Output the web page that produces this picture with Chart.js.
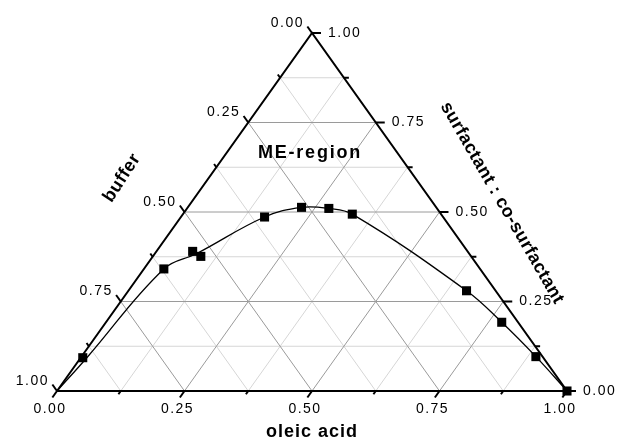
<!DOCTYPE html>
<html>
<head>
<meta charset="utf-8">
<script src="https://cdn.jsdelivr.net/npm/chart.js@4/dist/chart.umd.min.js"></script>
<style>
  html, body { margin: 0; padding: 0; background: #fff; }
  canvas { display: block; }
</style>
</head>
<body>
<canvas id="ternaryChart" width="621" height="440"></canvas>
<script>
// ternary axes: oleic acid (bottom), surfactant : co-surfactant (right), buffer (left)
const tickValues = [0, 0.25, 0.5, 0.75, 1];
const tickLabels = ["0.00", "0.25", "0.50", "0.75", "1.00"];
const gridValues = [0.125, 0.25, 0.375, 0.5, 0.625, 0.75, 0.875];

// measured points (fractions)
const oleicAcid = [0.004, 0.039, 0.071, 0.094, 0.164, 0.223, 0.278, 0.332, 0.663, 0.776, 0.891, 1.0];
const surfactant = [0.093, 0.341, 0.390, 0.376, 0.486, 0.513, 0.510, 0.494, 0.280, 0.192, 0.096, 0.0];

// phase boundary curve
const curveOleic = [0, 0.012, 0.039, 0.082, 0.164, 0.223, 0.278, 0.332, 0.663, 0.776, 0.891, 1.0];
const curveSurf = [0, 0.093, 0.341, 0.384, 0.486, 0.513, 0.510, 0.494, 0.280, 0.192, 0.096, 0.0];

const axisTitles = { bottom: "oleic acid", left: "buffer", right: "surfactant : co-surfactant" };
const regionLabel = "ME-region";

/**
 * Ternary (oleic, surfactant) -> cartesian x/y for the linear scales.
 */
function toXY(o, s) {
  return { x: o + s / 2, y: s };
}

/**
 * Build grid line segments, split with gaps.
 */
function gridSegments(values) {
  const pts = [];
  values.forEach((v) => {
    // constant surfactant
    pts.push(toXY(0, v), toXY(1 - v, v), { x: 0, y: null });
    // constant oleic acid
    pts.push(toXY(v, 0), toXY(v, 1 - v), { x: 0, y: null });
    // constant buffer
    pts.push(toXY(1 - v, 0), toXY(0, 1 - v), { x: 0, y: null });
  });
  return pts;
}

const majorGrid = gridValues.filter((v) => Math.abs(v * 4 - Math.round(v * 4)) < 1e-9);
const minorGrid = gridValues.filter((v) => !majorGrid.includes(v));

const trianglePts = [toXY(0, 0), toXY(1, 0), toXY(0, 1), toXY(0, 0)];
const markerPts = oleicAcid.map((o, i) => toXY(o, surfactant[i]));
const curvePts = curveOleic.map((o, i) => toXY(o, curveSurf[i]));

/**
 * Ticks, tick labels and titles drawn with the chart's scales.
 */
const ternaryDecor = {
  id: "ternaryDecor",
  afterDatasetsDraw(chart) {
    const ctx = chart.ctx;
    const xs = chart.scales.x;
    const ys = chart.scales.y;
    const px = (o, s) => {
      const p = toXY(o, s);
      return { x: xs.getPixelForValue(p.x), y: ys.getPixelForValue(p.y) };
    };

    ctx.save();
    ctx.strokeStyle = "#000";
    ctx.lineWidth = 2;

    const steps = [0, 0.125, 0.25, 0.375, 0.5, 0.625, 0.75, 0.875, 1];
    steps.forEach((v) => {
      const major = tickValues.includes(v);
      // bottom ticks, down-left
      let b = px(v, 0);
      let len = major ? 8 : 4;
      ctx.beginPath();
      ctx.moveTo(b.x, b.y);
      ctx.lineTo(b.x - 0.58 * len, b.y + 0.815 * len);
      ctx.stroke();
      // left ticks (buffer), up-left
      b = px(0, 1 - v);
      ctx.beginPath();
      ctx.moveTo(b.x, b.y);
      ctx.lineTo(b.x - 0.58 * len, b.y - 0.815 * len);
      ctx.stroke();
      // right ticks (surfactant), horizontal
      b = px(1 - v, v);
      len = major ? 9 : 5;
      ctx.beginPath();
      ctx.moveTo(b.x, b.y);
      ctx.lineTo(b.x + len, b.y);
      ctx.stroke();
    });

    ctx.fillStyle = "#000";
    ctx.font = "14px Arial, 'Liberation Sans', sans-serif";
    ctx.letterSpacing = "1.5px";
    ctx.textBaseline = "middle";
    tickValues.forEach((v, i) => {
      let b = px(v, 0);
      ctx.textAlign = "center";
      ctx.fillText(tickLabels[i], b.x - 7, b.y + 18);
      b = px(0, 1 - v);
      ctx.textAlign = "right";
      ctx.fillText(tickLabels[i], b.x - 8, b.y - 10);
      b = px(1 - v, v);
      ctx.textAlign = "left";
      ctx.fillText(tickLabels[i], b.x + 16, b.y);
    });

    ctx.font = "bold 18px Arial, 'Liberation Sans', sans-serif";
    ctx.letterSpacing = "1px";
    ctx.textAlign = "center";
    const mid = px(0.5, 0);
    ctx.fillText(axisTitles.bottom, mid.x, mid.y + 41);

    ctx.letterSpacing = "1.8px";
    ctx.fillText(regionLabel, mid.x - 2, ys.getPixelForValue(0.665));

    ctx.letterSpacing = "0.5px";
    ctx.save();
    ctx.translate(122, 178);
    ctx.rotate(-57 * Math.PI / 180);
    ctx.fillText(axisTitles.left, 0, 0);
    ctx.restore();

    ctx.save();
    ctx.translate(502, 203);
    ctx.rotate(60 * Math.PI / 180);
    ctx.fillText(axisTitles.right, 0, 0);
    ctx.restore();

    ctx.restore();
  }
};

new Chart(document.getElementById("ternaryChart"), {
  type: "scatter",
  data: {
    datasets: [
      {
        label: "data",
        data: markerPts,
        pointStyle: "rect",
        pointRadius: 6.4,
        backgroundColor: "#000",
        borderColor: "#000",
        borderWidth: 0,
        showLine: false,
        clip: false,
        order: 0
      },
      {
        label: "boundary",
        data: curvePts,
        showLine: true,
        tension: 0.4,
        borderColor: "#000",
        borderWidth: 1.3,
        pointRadius: 0,
        clip: false,
        order: 1
      },
      {
        label: "triangle",
        data: trianglePts,
        showLine: true,
        borderColor: "#000",
        borderWidth: 2,
        pointRadius: 0,
        clip: false,
        order: 2
      },
      {
        label: "major grid",
        data: gridSegments(majorGrid),
        showLine: true,
        spanGaps: false,
        borderColor: "#9a9a9a",
        borderWidth: 1,
        pointRadius: 0,
        clip: false,
        order: 3
      },
      {
        label: "minor grid",
        data: gridSegments(minorGrid),
        showLine: true,
        spanGaps: false,
        borderColor: "#d6d6d6",
        borderWidth: 1,
        pointRadius: 0,
        clip: false,
        order: 4
      }
    ]
  },
  options: {
    responsive: false,
    animation: false,
    devicePixelRatio: 1,
    layout: { padding: { left: 57, right: 54, top: 33, bottom: 49 } },
    scales: {
      x: { type: "linear", min: 0, max: 1, display: false },
      y: { type: "linear", min: 0, max: 1, display: false }
    },
    plugins: {
      legend: { display: false },
      tooltip: { enabled: false }
    }
  },
  plugins: [ternaryDecor]
});
</script>
</body>
</html>
